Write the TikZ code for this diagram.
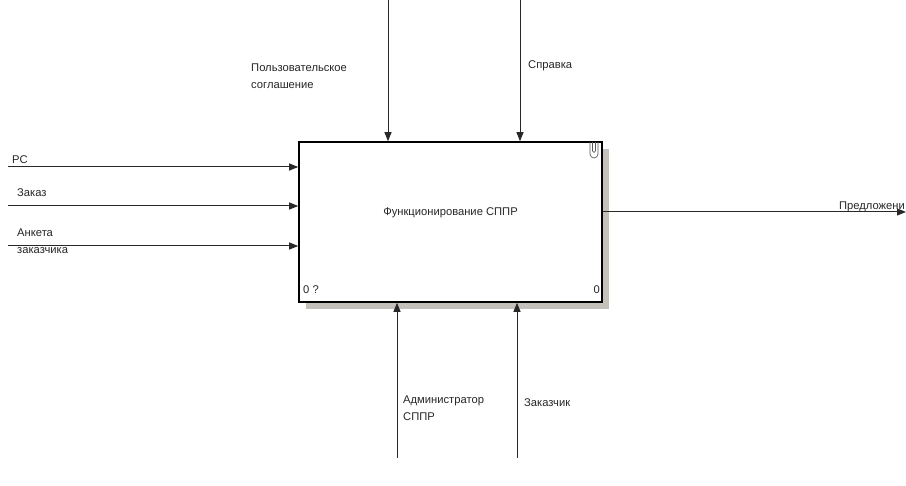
\documentclass[tikz,border=0pt]{standalone}
\usepackage{fontspec}
\setmainfont{Liberation Sans}
\usepackage{tikz}
\usetikzlibrary{arrows.meta,positioning}
\definecolor{shadowcol}{RGB}{196,192,186}
\definecolor{arrowcol}{RGB}{40,40,40}
\tikzset{
  func/.style   ={rectangle, draw=black, line width=1.6pt, fill=white,
                  minimum width=303pt, minimum height=160pt, inner sep=0pt},
  flow/.style   ={-{Triangle[length=9pt,width=7pt]}, line width=1pt, draw=arrowcol},
  lbl/.style    ={font=\fontsize{11.2}{17}\selectfont, inner sep=0pt, align=left,
                  text=black!85},
}

\begin{document}
\begin{tikzpicture}[x=1pt, y=1pt]
    \useasboundingbox (0,0) rectangle (906,486);
    \clip (0,0) rectangle (906,486);

    % activity box with shadow
    \fill[shadowcol] (306,177) rectangle (609,337);
    \node[func] (sppr) at (450.5,264) {};
    \node[lbl] (sppr_t) at (450.5,273) {Функционирование СППР};
    \node[lbl, anchor=west] (num_l) at (303,196) {0 ?};
    \node[lbl, anchor=east] (num_r) at (600,196) {0};
    % note clip (top right)
    \draw[line width=0.7pt, black!65] (590,344) -- (590,332) arc (180:360:4) -- (598,344)
        (592.5,344) -- (592.5,335) arc (180:360:1.5) -- (595.5,344);

    % inputs (left)
    \coordinate (in_pc)   at (8,319);
    \coordinate (in_ord)  at (8,280);
    \coordinate (in_form) at (8,240);
    \draw[flow] (in_pc)   -- (in_pc -| sppr.west);
    \draw[flow] (in_ord)  -- (in_ord -| sppr.west);
    \draw[flow] (in_form) -- (in_form -| sppr.west);
    \node[lbl, anchor=west] (l_pc)   at (12,326) {PC};
    \node[lbl, anchor=west] (l_ord)  at (17,293) {Заказ};
    \node[lbl, anchor=north west] (l_form) at (17,257) {Анкета\\заказчика};

    % controls (top)
    \coordinate (c_agr)  at (388,486);
    \coordinate (c_help) at (520,486);
    \draw[flow] (c_agr)  -- (c_agr |- sppr.north);
    \draw[flow] (c_help) -- (c_help |- sppr.north);
    \node[lbl, anchor=west] (l_agr)  at (251,410) {Пользовательское\\соглашение};
    \node[lbl, anchor=west] (l_help) at (528,420) {Справка};

    % mechanisms (bottom)
    \coordinate (m_admin) at (397,28);
    \coordinate (m_cust)  at (517,28);
    \draw[flow] (m_admin) -- (m_admin |- sppr.south);
    \draw[flow] (m_cust)  -- (m_cust |- sppr.south);
    \node[lbl, anchor=west] (l_admin) at (403,77.5) {Администратор\\СППР};
    \node[lbl, anchor=west] (l_cust)  at (524,83) {Заказчик};

    % output (right)
    \coordinate (out_prop) at (906,274);
    \draw[flow] (sppr.east |- out_prop) -- (out_prop);
    \node[lbl, anchor=east] (l_prop) at (905,279) {Предложени};
  \end{tikzpicture}
\end{document}
